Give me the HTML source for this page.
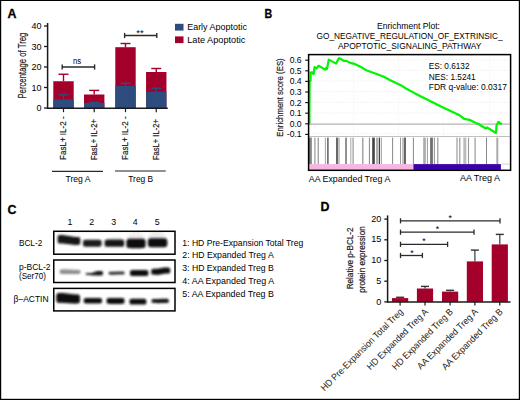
<!DOCTYPE html>
<html><head><meta charset="utf-8"><title>Figure</title><style>
html,body{margin:0;padding:0;background:#fff;width:520px;height:400px;overflow:hidden;}
svg{display:block;font-family:"Liberation Sans",sans-serif;}
.h{stroke:#1a1a1a;stroke-width:0.2px;}
</style></head><body>
<svg width="520" height="400" viewBox="0 0 520 400">
<rect x="0" y="0" width="520" height="400" fill="#fff"/>
<rect x="0" y="0" width="520" height="1" fill="#000" />
<rect x="0" y="0" width="1.2" height="400" fill="#000" />
<rect x="518.8" y="0" width="1.2" height="400" fill="#000" />
<rect x="0" y="398.8" width="520" height="1.2" fill="#000" />
<text x="7.5" y="17.6" font-size="12.4" font-weight="bold" fill="#000" stroke="#000" stroke-width="0.3">A</text>
<line x1="47.6" y1="23" x2="47.6" y2="108.8" stroke="#1a1a1a" stroke-width="1.5" />
<line x1="44" y1="108.0" x2="47.6" y2="108.0" stroke="#1a1a1a" stroke-width="1.3" />
<text x="41.6" y="111.2" font-size="9" text-anchor="end" >0</text>
<line x1="44" y1="87.5" x2="47.6" y2="87.5" stroke="#1a1a1a" stroke-width="1.3" />
<text x="41.6" y="90.7" font-size="9" text-anchor="end" >10</text>
<line x1="44" y1="67.0" x2="47.6" y2="67.0" stroke="#1a1a1a" stroke-width="1.3" />
<text x="41.6" y="70.2" font-size="9" text-anchor="end" >20</text>
<line x1="44" y1="46.50000000000001" x2="47.6" y2="46.50000000000001" stroke="#1a1a1a" stroke-width="1.3" />
<text x="41.6" y="49.70000000000001" font-size="9" text-anchor="end" >30</text>
<line x1="44" y1="26.0" x2="47.6" y2="26.0" stroke="#1a1a1a" stroke-width="1.3" />
<text x="41.6" y="29.2" font-size="9" text-anchor="end" >40</text>
<text class="h" transform="translate(25.9,65.6) rotate(-90)" font-size="10.2" text-anchor="middle" textLength="66" lengthAdjust="spacingAndGlyphs" fill="#1a1a1a">Percentage of Treg</text>
<rect x="53.3" y="81.25" width="20.4" height="26.75" fill="#A3002C" />
<rect x="53.3" y="99.5" width="20.4" height="8.5" fill="#2F4C7E" />
<line x1="63.5" y1="81.25" x2="63.5" y2="74.25" stroke="#A3002C" stroke-width="1.4" />
<line x1="58.5" y1="74.25" x2="68.5" y2="74.25" stroke="#A3002C" stroke-width="1.4" />
<line x1="63.5" y1="99.5" x2="63.5" y2="94.75" stroke="#2F4C7E" stroke-width="1.4" />
<line x1="58.5" y1="94.75" x2="68.5" y2="94.75" stroke="#2F4C7E" stroke-width="1.4" />
<rect x="84.0" y="94.5" width="20.4" height="13.5" fill="#A3002C" />
<rect x="84.0" y="102.9" width="20.4" height="5.099999999999994" fill="#2F4C7E" />
<line x1="94.2" y1="94.5" x2="94.2" y2="90.4" stroke="#A3002C" stroke-width="1.4" />
<line x1="89.2" y1="90.4" x2="99.2" y2="90.4" stroke="#A3002C" stroke-width="1.4" />
<line x1="94.2" y1="102.9" x2="94.2" y2="102.4" stroke="#2F4C7E" stroke-width="1.4" />
<line x1="89.2" y1="102.4" x2="99.2" y2="102.4" stroke="#2F4C7E" stroke-width="1.4" />
<rect x="115.3" y="47.2" width="20.4" height="60.8" fill="#A3002C" />
<rect x="115.3" y="86.0" width="20.4" height="22.0" fill="#2F4C7E" />
<line x1="125.5" y1="47.2" x2="125.5" y2="43.5" stroke="#A3002C" stroke-width="1.4" />
<line x1="120.5" y1="43.5" x2="130.5" y2="43.5" stroke="#A3002C" stroke-width="1.4" />
<line x1="125.5" y1="86.0" x2="125.5" y2="83.3" stroke="#2F4C7E" stroke-width="1.4" />
<line x1="120.5" y1="83.3" x2="130.5" y2="83.3" stroke="#2F4C7E" stroke-width="1.4" />
<rect x="146.05" y="72.0" width="20.4" height="36.0" fill="#A3002C" />
<rect x="146.05" y="91.75" width="20.4" height="16.25" fill="#2F4C7E" />
<line x1="156.25" y1="72.0" x2="156.25" y2="68.5" stroke="#A3002C" stroke-width="1.4" />
<line x1="151.25" y1="68.5" x2="161.25" y2="68.5" stroke="#A3002C" stroke-width="1.4" />
<line x1="156.25" y1="91.75" x2="156.25" y2="88.25" stroke="#2F4C7E" stroke-width="1.4" />
<line x1="151.25" y1="88.25" x2="161.25" y2="88.25" stroke="#2F4C7E" stroke-width="1.4" />
<line x1="47" y1="108.3" x2="167.8" y2="108.3" stroke="#1a1a1a" stroke-width="1.6" />
<line x1="63.5" y1="108.3" x2="63.5" y2="112.2" stroke="#1a1a1a" stroke-width="1.2" />
<line x1="94.2" y1="108.3" x2="94.2" y2="112.2" stroke="#1a1a1a" stroke-width="1.2" />
<line x1="125.5" y1="108.3" x2="125.5" y2="112.2" stroke="#1a1a1a" stroke-width="1.2" />
<line x1="156.25" y1="108.3" x2="156.25" y2="112.2" stroke="#1a1a1a" stroke-width="1.2" />
<text class="h" transform="translate(65.9,160) rotate(-90)" font-size="8.6" textLength="43.7" lengthAdjust="spacingAndGlyphs" fill="#1a1a1a">FasL+ IL-2 -</text>
<text class="h" transform="translate(96.60000000000001,160) rotate(-90)" font-size="8.6" textLength="40.8" lengthAdjust="spacingAndGlyphs" fill="#1a1a1a">FasL+ IL-2+</text>
<text class="h" transform="translate(127.9,160) rotate(-90)" font-size="8.6" textLength="43.7" lengthAdjust="spacingAndGlyphs" fill="#1a1a1a">FasL+ IL-2 -</text>
<text class="h" transform="translate(158.65,160) rotate(-90)" font-size="8.6" textLength="40.8" lengthAdjust="spacingAndGlyphs" fill="#1a1a1a">FasL+ IL-2+</text>
<line x1="52" y1="171.3" x2="103" y2="171.3" stroke="#2a2a2a" stroke-width="1.3" />
<line x1="115.0" y1="171.0" x2="165.7" y2="171.0" stroke="#6a6a6a" stroke-width="1.6" />
<text x="78" y="181.7" font-size="9" text-anchor="middle" textLength="25" lengthAdjust="spacingAndGlyphs" >Treg A</text>
<text x="140.7" y="181.7" font-size="9" text-anchor="middle" textLength="24.8" lengthAdjust="spacingAndGlyphs" >Treg B</text>
<line x1="62.2" y1="67" x2="94.6" y2="67" stroke="#2a2a2a" stroke-width="1.4" />
<line x1="62.2" y1="64.4" x2="62.2" y2="69.6" stroke="#2a2a2a" stroke-width="1.4" />
<line x1="94.6" y1="64.4" x2="94.6" y2="69.6" stroke="#2a2a2a" stroke-width="1.4" />
<text x="77.1" y="64.3" font-size="9.2" text-anchor="middle" textLength="8.2" lengthAdjust="spacingAndGlyphs" >ns</text>
<line x1="124.6" y1="35.5" x2="156.8" y2="35.5" stroke="#2a2a2a" stroke-width="1.4" />
<line x1="124.6" y1="32.9" x2="124.6" y2="38.1" stroke="#2a2a2a" stroke-width="1.4" />
<line x1="156.8" y1="32.9" x2="156.8" y2="38.1" stroke="#2a2a2a" stroke-width="1.4" />
<text x="140.1" y="36.3" font-size="9.6" text-anchor="middle" >**</text>
<rect x="175" y="23.8" width="8.5" height="6.8" fill="#2F4C7E" />
<rect x="175" y="36.4" width="8.5" height="6.7" fill="#A3002C" />
<text x="187.2" y="30.4" font-size="9" textLength="59.7" lengthAdjust="spacingAndGlyphs" >Early Apoptotic</text>
<text x="187.2" y="43.1" font-size="9" textLength="58.2" lengthAdjust="spacingAndGlyphs" >Late Apoptotic</text>
<text x="264.6" y="17.8" font-size="12.4" textLength="7.7" lengthAdjust="spacingAndGlyphs" font-weight="bold" fill="#000" stroke="#000" stroke-width="0.3">B</text>
<text x="408.5" y="28.6" font-size="8.6" text-anchor="middle" textLength="63" lengthAdjust="spacingAndGlyphs" >Enrichment Plot:</text>
<text x="409.6" y="38.8" font-size="8.6" text-anchor="middle" textLength="186" lengthAdjust="spacingAndGlyphs" >GO_NEGATIVE_REGULATION_OF_EXTRINSIC_</text>
<text x="409.7" y="48.9" font-size="8.6" text-anchor="middle" textLength="143.5" lengthAdjust="spacingAndGlyphs" >APOPTOTIC_SIGNALING_PATHWAY</text>
<line x1="309.5" y1="59.8" x2="510" y2="59.8" stroke="#ebebeb" stroke-width="0.8" stroke-dasharray="1.2,1.2"/>
<line x1="309.5" y1="70.4" x2="510" y2="70.4" stroke="#ebebeb" stroke-width="0.8" stroke-dasharray="1.2,1.2"/>
<line x1="309.5" y1="81.0" x2="510" y2="81.0" stroke="#ebebeb" stroke-width="0.8" stroke-dasharray="1.2,1.2"/>
<line x1="309.5" y1="91.7" x2="510" y2="91.7" stroke="#ebebeb" stroke-width="0.8" stroke-dasharray="1.2,1.2"/>
<line x1="309.5" y1="102.4" x2="510" y2="102.4" stroke="#ebebeb" stroke-width="0.8" stroke-dasharray="1.2,1.2"/>
<line x1="309.5" y1="113.0" x2="510" y2="113.0" stroke="#ebebeb" stroke-width="0.8" stroke-dasharray="1.2,1.2"/>
<line x1="309.5" y1="133.6" x2="510" y2="133.6" stroke="#ebebeb" stroke-width="0.8" stroke-dasharray="1.2,1.2"/>
<line x1="353.5" y1="55.5" x2="353.5" y2="136" stroke="#f0f0f0" stroke-width="0.8" stroke-dasharray="1.2,1.2"/>
<line x1="398.5" y1="55.5" x2="398.5" y2="136" stroke="#f0f0f0" stroke-width="0.8" stroke-dasharray="1.2,1.2"/>
<line x1="443.5" y1="55.5" x2="443.5" y2="136" stroke="#f0f0f0" stroke-width="0.8" stroke-dasharray="1.2,1.2"/>
<line x1="489.6" y1="55.5" x2="489.6" y2="136" stroke="#f0f0f0" stroke-width="0.8" stroke-dasharray="1.2,1.2"/>
<line x1="309.2" y1="124.1" x2="510" y2="124.1" stroke="#b4b4b4" stroke-width="1.3" />
<line x1="309.2" y1="136.5" x2="510" y2="136.5" stroke="#c0c0c0" stroke-width="1.2" />
<line x1="305.2" y1="60.2" x2="308.5" y2="60.2" stroke="#1a1a1a" stroke-width="1.2" />
<text x="301.6" y="63.2" font-size="8.6" text-anchor="end" >0.6</text>
<line x1="305.2" y1="70.8" x2="308.5" y2="70.8" stroke="#1a1a1a" stroke-width="1.2" />
<text x="301.6" y="73.8" font-size="8.6" text-anchor="end" >0.5</text>
<line x1="305.2" y1="81.39999999999999" x2="308.5" y2="81.39999999999999" stroke="#1a1a1a" stroke-width="1.2" />
<text x="301.6" y="84.39999999999999" font-size="8.6" text-anchor="end" >0.4</text>
<line x1="305.2" y1="92.0" x2="308.5" y2="92.0" stroke="#1a1a1a" stroke-width="1.2" />
<text x="301.6" y="95.0" font-size="8.6" text-anchor="end" >0.3</text>
<line x1="305.2" y1="102.6" x2="308.5" y2="102.6" stroke="#1a1a1a" stroke-width="1.2" />
<text x="301.6" y="105.6" font-size="8.6" text-anchor="end" >0.2</text>
<line x1="305.2" y1="113.19999999999999" x2="308.5" y2="113.19999999999999" stroke="#1a1a1a" stroke-width="1.2" />
<text x="301.6" y="116.19999999999999" font-size="8.6" text-anchor="end" >0.1</text>
<line x1="305.2" y1="123.8" x2="308.5" y2="123.8" stroke="#1a1a1a" stroke-width="1.2" />
<text x="301.6" y="126.8" font-size="8.6" text-anchor="end" >0.0</text>
<line x1="305.2" y1="134.4" x2="308.5" y2="134.4" stroke="#1a1a1a" stroke-width="1.2" />
<text x="301.6" y="137.4" font-size="8.6" text-anchor="end" >-0.1</text>
<text class="h" transform="translate(283,97.5) rotate(-90)" font-size="9.6" text-anchor="middle" textLength="78.4" lengthAdjust="spacingAndGlyphs" fill="#1a1a1a">Enrichment score (ES)</text>
<rect x="308.9" y="137.6" width="1.4" height="26.6" fill="#777" />
<rect x="310.4" y="137.6" width="1.2" height="26.6" fill="#555" />
<rect x="314.3" y="137.6" width="1.2" height="26.6" fill="#999" />
<rect x="317.65" y="137.6" width="1.1" height="26.6" fill="#8a8a8a" />
<rect x="324.85" y="137.6" width="1.1" height="26.6" fill="#aaa" />
<rect x="327.2" y="137.6" width="1.4" height="26.6" fill="#555" />
<rect x="336.2" y="137.6" width="1.6" height="26.6" fill="#444" />
<rect x="338.45" y="137.6" width="1.1" height="26.6" fill="#999" />
<rect x="345.3" y="137.6" width="1.4" height="26.6" fill="#666" />
<rect x="350.25" y="137.6" width="1.1" height="26.6" fill="#b0b0b0" />
<rect x="352.5" y="137.6" width="1.2" height="26.6" fill="#999" />
<rect x="362.15" y="137.6" width="1.3" height="26.6" fill="#999" />
<rect x="368.9" y="137.6" width="1.0" height="26.6" fill="#888" />
<rect x="372.2" y="137.6" width="2.6" height="26.6" fill="#444" />
<rect x="376.1" y="137.6" width="1.8" height="26.6" fill="#aaa" />
<rect x="378.75" y="137.6" width="1.1" height="26.6" fill="#222" />
<rect x="380.8" y="137.6" width="1.0" height="26.6" fill="#999" />
<rect x="392.1" y="137.6" width="1.0" height="26.6" fill="#888" />
<rect x="400.0" y="137.6" width="1.0" height="26.6" fill="#999" />
<rect x="402.3" y="137.6" width="1.4" height="26.6" fill="#aaa" />
<rect x="404.2" y="137.6" width="1.6" height="26.6" fill="#444" />
<rect x="412.9" y="137.6" width="1.0" height="26.6" fill="#888" />
<rect x="423.2" y="137.6" width="2.6" height="26.6" fill="#aaa" />
<rect x="426.9" y="137.6" width="1.0" height="26.6" fill="#999" />
<rect x="430.1" y="137.6" width="2.8" height="26.6" fill="#6e6e6e" />
<rect x="433.85" y="137.6" width="1.1" height="26.6" fill="#999" />
<rect x="437.2" y="137.6" width="1.2" height="26.6" fill="#999" />
<rect x="456.3" y="137.6" width="1.4" height="26.6" fill="#aaa" />
<rect x="459.2" y="137.6" width="1.2" height="26.6" fill="#999" />
<rect x="463.3" y="137.6" width="3.0" height="26.6" fill="#bbb" />
<rect x="467.95" y="137.6" width="1.1" height="26.6" fill="#999" />
<rect x="474.5" y="137.6" width="1.2" height="26.6" fill="#999" />
<rect x="486.0" y="137.6" width="1.0" height="26.6" fill="#888" />
<rect x="496.3" y="137.6" width="2.0" height="26.6" fill="#aaa" />
<rect x="309.2" y="164.1" width="104.2" height="5.8" fill="#F7B5E3" />
<rect x="413.4" y="164.1" width="87.5" height="5.8" fill="#3B00A9" />
<line x1="500.9" y1="164.1" x2="510" y2="164.1" stroke="#ccc" stroke-width="0.8" />
<polyline fill="none" stroke="#00F500" stroke-width="2.2" stroke-linejoin="round" points="309.4,124.1 309.6,80.8 310.6,80.8 310.6,72.6 312,72.3 313.6,74.2 314.6,67.0 316.3,68.5 318.7,65.8 325.1,69.6 326.1,68.0 327.0,69.0 328.8,59.6 336.2,63.6 338.7,58.4 339.8,58.4 344.2,61 346.5,60.9 348.3,61.9 351.2,63.2 354.6,63.9 360,66.4 366.2,70.2 372.5,72.5 374.6,73.2 383.3,76.6 390.8,80.4 402.3,86.1 406,88.5 415,93.4 421.5,96.7 441,106.5 460,115.6 464.2,118.8 469.5,119.8 474.8,122.5 478.5,124 485.4,128.3 487,127.4 496,133 496.5,125.6 497,124.6 498.3,122 499.7,123 501.8,124.3"/>
<rect x="308.6" y="54.6" width="202" height="115.7" fill="none" stroke="#000" stroke-width="1.5"/>
<text x="428.8" y="69.3" font-size="8.8" textLength="40.7" lengthAdjust="spacingAndGlyphs" >ES: 0.6132</text>
<text x="428.8" y="79.7" font-size="8.8" textLength="46.9" lengthAdjust="spacingAndGlyphs" >NES: 1.5241</text>
<text x="428.8" y="89.5" font-size="8.8" textLength="78.1" lengthAdjust="spacingAndGlyphs" >FDR q-value: 0.0317</text>
<text x="308.8" y="181.7" font-size="8.8" textLength="81.5" lengthAdjust="spacingAndGlyphs" >AA Expanded Treg A</text>
<text x="459.9" y="181.0" font-size="8.8" textLength="40" lengthAdjust="spacingAndGlyphs" >AA Treg A</text>
<text x="7.5" y="214.3" font-size="12.4" font-weight="bold" fill="#000" stroke="#000" stroke-width="0.3">C</text>
<text x="70" y="225.1" font-size="8.8" text-anchor="middle" >1</text>
<text x="91.75" y="225.1" font-size="8.8" text-anchor="middle" >2</text>
<text x="113.75" y="225.1" font-size="8.8" text-anchor="middle" >3</text>
<text x="135.2" y="225.1" font-size="8.8" text-anchor="middle" >4</text>
<text x="157.3" y="225.1" font-size="8.8" text-anchor="middle" >5</text>
<rect x="53.75" y="231.3" width="121.25" height="22.90" fill="#fff" stroke="#000" stroke-width="1.5"/>
<rect x="53.75" y="260.0" width="121.25" height="22.50" fill="#fff" stroke="#000" stroke-width="1.5"/>
<rect x="53.75" y="288.4" width="121.25" height="22.50" fill="#fff" stroke="#000" stroke-width="1.5"/>
<text x="19" y="245.5" font-size="8.8" textLength="23.2" lengthAdjust="spacingAndGlyphs" >BCL-2</text>
<text x="19" y="269.6" font-size="8.8" textLength="31.6" lengthAdjust="spacingAndGlyphs" >p-BCL-2</text>
<text x="19" y="278.5" font-size="8.4" textLength="27.0" lengthAdjust="spacingAndGlyphs" >(Ser70)</text>
<text x="13.6" y="302.4" font-size="8.8" textLength="35" lengthAdjust="spacingAndGlyphs" >β–ACTIN</text>
<text x="182.3" y="245.6" font-size="8.8" textLength="121" lengthAdjust="spacingAndGlyphs" >1: HD Pre-Expansion Total Treg</text>
<text x="182.3" y="258.35" font-size="8.8" textLength="91.4" lengthAdjust="spacingAndGlyphs" >2: HD Expanded Treg A</text>
<text x="182.3" y="271.1" font-size="8.8" textLength="91.4" lengthAdjust="spacingAndGlyphs" >3: HD Expanded Treg B</text>
<text x="182.3" y="283.85" font-size="8.8" textLength="91.8" lengthAdjust="spacingAndGlyphs" >4: AA Expanded Treg A</text>
<text x="182.3" y="296.6" font-size="8.8" textLength="91.6" lengthAdjust="spacingAndGlyphs" >5: AA Expanded Treg B</text>
<defs><filter id="bl" x="-20%" y="-50%" width="140%" height="200%"><feGaussianBlur stdDeviation="0.95"/></filter><filter id="bl2" x="-30%" y="-80%" width="160%" height="260%"><feGaussianBlur stdDeviation="1.6"/></filter></defs>
<ellipse cx="136" cy="238" rx="9" ry="5" fill="#000" opacity="0.08" filter="url(#bl2)"/>
<ellipse cx="157" cy="237" rx="9" ry="5" fill="#000" opacity="0.08" filter="url(#bl2)"/>
<ellipse cx="116" cy="240" rx="8" ry="4" fill="#000" opacity="0.05" filter="url(#bl2)"/>
<path d="M62.60,235.10 L75.30,237.10 C80.30,237.10 80.30,237.10 80.30,241.00 C80.30,244.90 80.30,244.90 75.30,244.90 L62.60,243.50 C57.60,243.50 57.60,243.50 57.60,239.30 C57.60,235.10 57.60,235.10 62.60,235.10 Z" fill="#121212" opacity="1" filter="url(#bl)"/>
<path d="M89.50,239.75 L95.10,239.75 C101.60,239.75 101.60,239.75 101.60,243.20 C101.60,246.65 101.60,246.65 95.10,246.65 L89.50,246.65 C83.00,246.65 83.00,246.65 83.00,243.20 C83.00,239.75 83.00,239.75 89.50,239.75 Z" fill="#1a1a1a" opacity="1" filter="url(#bl)"/>
<path d="M111.10,239.55 L117.70,239.55 C124.20,239.55 124.20,239.55 124.20,243.20 C124.20,246.85 124.20,246.85 117.70,246.85 L111.10,246.85 C104.60,246.85 104.60,246.85 104.60,243.20 C104.60,239.55 104.60,239.55 111.10,239.55 Z" fill="#181818" opacity="1" filter="url(#bl)"/>
<path d="M133.90,238.85 L138.10,238.85 C145.60,238.85 145.60,238.85 145.60,243.50 C145.60,248.15 145.60,248.15 138.10,248.15 L133.90,248.15 C126.40,248.15 126.40,248.15 126.40,243.50 C126.40,238.85 126.40,238.85 133.90,238.85 Z" fill="#0a0a0a" opacity="1" filter="url(#bl)"/>
<path d="M155.40,238.25 L159.80,238.25 C167.30,238.25 167.30,238.25 167.30,242.70 C167.30,247.15 167.30,247.15 159.80,247.15 L155.40,247.15 C147.90,247.15 147.90,247.15 147.90,242.70 C147.90,238.25 147.90,238.25 155.40,238.25 Z" fill="#0c0c0c" opacity="1" filter="url(#bl)"/>
<ellipse cx="70" cy="271" rx="11" ry="3" fill="#000" opacity="0.05" filter="url(#bl2)"/>
<path d="M65.80,269.50 L74.40,270.00 C80.40,270.00 80.40,270.00 80.40,272.00 C80.40,274.00 80.40,274.00 74.40,274.00 L65.80,273.90 C59.80,273.90 59.80,273.90 59.80,271.70 C59.80,269.50 59.80,269.50 65.80,269.50 Z" fill="#8e8e8e" opacity="1" filter="url(#bl)"/>
<path d="M91.80,273.00 L97.00,271.10 C103.00,271.10 103.00,271.10 103.00,273.30 C103.00,275.50 103.00,275.50 97.00,275.50 L91.80,275.20 C85.80,275.20 85.80,275.20 85.80,274.10 C85.80,273.00 85.80,273.00 91.80,273.00 Z" fill="#161616" opacity="1" filter="url(#bl)"/>
<path d="M114.60,271.80 L118.60,271.50 C124.60,271.50 124.60,271.50 124.60,273.00 C124.60,274.50 124.60,274.50 118.60,274.50 L114.60,274.80 C108.60,274.80 108.60,274.80 108.60,273.30 C108.60,271.80 108.60,271.80 114.60,271.80 Z" fill="#333" opacity="1" filter="url(#bl)"/>
<path d="M136.00,270.10 L142.40,270.10 C148.40,270.10 148.40,270.10 148.40,273.10 C148.40,276.10 148.40,276.10 142.40,276.10 L136.00,276.10 C130.00,276.10 130.00,276.10 130.00,273.10 C130.00,270.10 130.00,270.10 136.00,270.10 Z" fill="#0a0a0a" opacity="1" filter="url(#bl)"/>
<path d="M157.30,268.70 L164.20,267.50 C170.20,267.50 170.20,267.50 170.20,270.60 C170.20,273.70 170.20,273.70 164.20,273.70 L157.30,274.90 C151.30,274.90 151.30,274.90 151.30,271.80 C151.30,268.70 151.30,268.70 157.30,268.70 Z" fill="#0a0a0a" opacity="1" filter="url(#bl)"/>
<ellipse cx="68" cy="298" rx="13" ry="6" fill="#000" opacity="0.07" filter="url(#bl2)"/>
<path d="M62.40,293.00 L73.90,294.40 C79.90,294.40 79.90,294.40 79.90,298.90 C79.90,303.40 79.90,303.40 73.90,303.40 L62.40,302.80 C56.40,302.80 56.40,302.80 56.40,297.90 C56.40,293.00 56.40,293.00 62.40,293.00 Z" fill="#080808" opacity="1" filter="url(#bl)"/>
<path d="M89.80,298.10 L96.00,298.00 C102.00,298.00 102.00,298.00 102.00,300.70 C102.00,303.40 102.00,303.40 96.00,303.40 L89.80,303.50 C83.80,303.50 83.80,303.50 83.80,300.80 C83.80,298.10 83.80,298.10 89.80,298.10 Z" fill="#111" opacity="1" filter="url(#bl)"/>
<path d="M112.60,298.10 L118.50,298.10 C124.50,298.10 124.50,298.10 124.50,301.00 C124.50,303.90 124.50,303.90 118.50,303.90 L112.60,303.90 C106.60,303.90 106.60,303.90 106.60,301.00 C106.60,298.10 106.60,298.10 112.60,298.10 Z" fill="#111" opacity="1" filter="url(#bl)"/>
<path d="M135.50,298.80 L140.30,298.80 C146.30,298.80 146.30,298.80 146.30,301.70 C146.30,304.60 146.30,304.60 140.30,304.60 L135.50,304.60 C129.50,304.60 129.50,304.60 129.50,301.70 C129.50,298.80 129.50,298.80 135.50,298.80 Z" fill="#111" opacity="1" filter="url(#bl)"/>
<path d="M157.60,299.00 L162.80,298.80 C168.80,298.80 168.80,298.80 168.80,300.90 C168.80,303.00 168.80,303.00 162.80,303.00 L157.60,303.20 C151.60,303.20 151.60,303.20 151.60,301.10 C151.60,299.00 151.60,299.00 157.60,299.00 Z" fill="#141414" opacity="1" filter="url(#bl)"/>
<text x="320.4" y="210.8" font-size="12.4" font-weight="bold" fill="#000" stroke="#000" stroke-width="0.3">D</text>
<line x1="387.6" y1="215.4" x2="387.6" y2="302.6" stroke="#1a1a1a" stroke-width="1.5" />
<line x1="384.3" y1="301.9" x2="387.6" y2="301.9" stroke="#1a1a1a" stroke-width="1.3" />
<text x="381.4" y="304.5" font-size="9.1" text-anchor="end" >0</text>
<line x1="384.3" y1="281.2" x2="387.6" y2="281.2" stroke="#1a1a1a" stroke-width="1.3" />
<text x="381.4" y="283.8" font-size="9.1" text-anchor="end" >5</text>
<line x1="384.3" y1="260.5" x2="387.6" y2="260.5" stroke="#1a1a1a" stroke-width="1.3" />
<text x="381.4" y="263.1" font-size="9.1" text-anchor="end" >10</text>
<line x1="384.3" y1="239.79999999999998" x2="387.6" y2="239.79999999999998" stroke="#1a1a1a" stroke-width="1.3" />
<text x="381.4" y="242.39999999999998" font-size="9.1" text-anchor="end" >15</text>
<line x1="384.3" y1="219.09999999999997" x2="387.6" y2="219.09999999999997" stroke="#1a1a1a" stroke-width="1.3" />
<text x="381.4" y="221.69999999999996" font-size="9.1" text-anchor="end" >20</text>
<text class="h" transform="translate(353.4,258.4) rotate(-90)" font-size="9.1" text-anchor="middle" textLength="61.9" lengthAdjust="spacingAndGlyphs" fill="#1a1a1a">Relative p-BCL-2</text>
<text class="h" transform="translate(365.0,259.5) rotate(-90)" font-size="9.1" text-anchor="middle" textLength="66.3" lengthAdjust="spacingAndGlyphs" fill="#1a1a1a">protein expression</text>
<rect x="392.0" y="298.1" width="16.2" height="3.7999999999999545" fill="#A3002C" />
<line x1="400.1" y1="298.1" x2="400.1" y2="297.3" stroke="#484848" stroke-width="1.3" />
<line x1="396.1" y1="297.3" x2="404.1" y2="297.3" stroke="#333" stroke-width="1.4" />
<rect x="416.9" y="288.5" width="16.2" height="13.399999999999977" fill="#A3002C" />
<line x1="425.0" y1="288.5" x2="425.0" y2="286.4" stroke="#484848" stroke-width="1.3" />
<line x1="421.0" y1="286.4" x2="429.0" y2="286.4" stroke="#333" stroke-width="1.4" />
<rect x="442.0" y="291.6" width="16.2" height="10.299999999999955" fill="#A3002C" />
<line x1="450.1" y1="291.6" x2="450.1" y2="290.3" stroke="#484848" stroke-width="1.3" />
<line x1="446.1" y1="290.3" x2="454.1" y2="290.3" stroke="#333" stroke-width="1.4" />
<rect x="466.79999999999995" y="261.4" width="16.2" height="40.5" fill="#A3002C" />
<line x1="474.9" y1="261.4" x2="474.9" y2="250.1" stroke="#484848" stroke-width="1.3" />
<line x1="470.9" y1="250.1" x2="478.9" y2="250.1" stroke="#333" stroke-width="1.4" />
<rect x="491.7" y="244.4" width="16.2" height="57.49999999999997" fill="#A3002C" />
<line x1="499.8" y1="244.4" x2="499.8" y2="234.4" stroke="#484848" stroke-width="1.3" />
<line x1="495.8" y1="234.4" x2="503.8" y2="234.4" stroke="#333" stroke-width="1.4" />
<line x1="387" y1="302.1" x2="510.5" y2="302.1" stroke="#1a1a1a" stroke-width="1.5" />
<line x1="400.1" y1="302.1" x2="400.1" y2="305.5" stroke="#1a1a1a" stroke-width="1.2" />
<line x1="425.0" y1="302.1" x2="425.0" y2="305.5" stroke="#1a1a1a" stroke-width="1.2" />
<line x1="450.1" y1="302.1" x2="450.1" y2="305.5" stroke="#1a1a1a" stroke-width="1.2" />
<line x1="474.9" y1="302.1" x2="474.9" y2="305.5" stroke="#1a1a1a" stroke-width="1.2" />
<line x1="499.8" y1="302.1" x2="499.8" y2="305.5" stroke="#1a1a1a" stroke-width="1.2" />
<line x1="400.5" y1="220.8" x2="500.0" y2="220.8" stroke="#2a2a2a" stroke-width="1.3" />
<line x1="400.5" y1="218.20000000000002" x2="400.5" y2="223.4" stroke="#2a2a2a" stroke-width="1.3" />
<line x1="500.0" y1="218.20000000000002" x2="500.0" y2="223.4" stroke="#2a2a2a" stroke-width="1.3" />
<text x="450.3" y="220.7" font-size="8.8" text-anchor="middle" >*</text>
<line x1="400.5" y1="232.2" x2="474.0" y2="232.2" stroke="#2a2a2a" stroke-width="1.3" />
<line x1="400.5" y1="229.6" x2="400.5" y2="234.79999999999998" stroke="#2a2a2a" stroke-width="1.3" />
<line x1="474.0" y1="229.6" x2="474.0" y2="234.79999999999998" stroke="#2a2a2a" stroke-width="1.3" />
<text x="437.5" y="232.2" font-size="8.8" text-anchor="middle" >*</text>
<line x1="400.5" y1="244.3" x2="447.6" y2="244.3" stroke="#2a2a2a" stroke-width="1.3" />
<line x1="400.5" y1="241.70000000000002" x2="400.5" y2="246.9" stroke="#2a2a2a" stroke-width="1.3" />
<line x1="447.6" y1="241.70000000000002" x2="447.6" y2="246.9" stroke="#2a2a2a" stroke-width="1.3" />
<text x="424.0" y="244.3" font-size="8.8" text-anchor="middle" >*</text>
<line x1="400.5" y1="255.5" x2="422.4" y2="255.5" stroke="#2a2a2a" stroke-width="1.3" />
<line x1="400.5" y1="252.9" x2="400.5" y2="258.1" stroke="#2a2a2a" stroke-width="1.3" />
<line x1="422.4" y1="252.9" x2="422.4" y2="258.1" stroke="#2a2a2a" stroke-width="1.3" />
<text x="411.9" y="255.5" font-size="8.8" text-anchor="middle" >*</text>
<text transform="translate(403.70000000000005,312.4) rotate(-45)" font-size="9.3" text-anchor="end" textLength="112" lengthAdjust="spacingAndGlyphs" fill="#1a1a1a">HD Pre-Expansion Total Treg</text>
<text transform="translate(428.6,312.4) rotate(-45)" font-size="9.3" text-anchor="end" textLength="82" lengthAdjust="spacingAndGlyphs" fill="#1a1a1a">HD Expanded Treg A</text>
<text transform="translate(453.70000000000005,312.4) rotate(-45)" font-size="9.3" text-anchor="end" textLength="82" lengthAdjust="spacingAndGlyphs" fill="#1a1a1a">HD Expanded Treg B</text>
<text transform="translate(478.5,312.4) rotate(-45)" font-size="9.3" text-anchor="end" textLength="81.5" lengthAdjust="spacingAndGlyphs" fill="#1a1a1a">AA Expanded Treg A</text>
<text transform="translate(503.40000000000003,312.4) rotate(-45)" font-size="9.3" text-anchor="end" textLength="82" lengthAdjust="spacingAndGlyphs" fill="#1a1a1a">AA Expanded Treg B</text>
</svg>
</body></html>
